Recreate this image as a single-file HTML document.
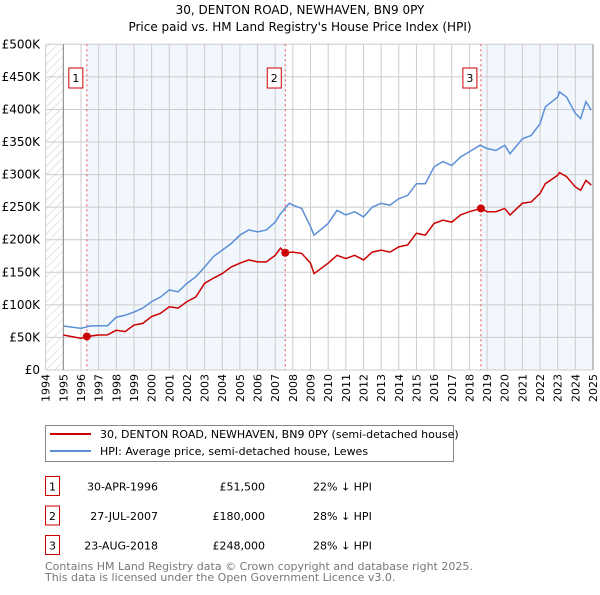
<!DOCTYPE html>
<html><head><meta charset="utf-8"><style>
body{margin:0;background:#fff;font-family:"Liberation Sans","DejaVu Sans",sans-serif;}
svg text{font-family:"DejaVu Sans","Liberation Sans",sans-serif;}
</style></head><body>
<svg id="c" width="600" height="590" viewBox="0 0 600 590" xmlns="http://www.w3.org/2000/svg">
<defs><pattern id="h" width="6" height="6" patternUnits="userSpaceOnUse" patternTransform="rotate(45)"><line x1="0" y1="0" x2="0" y2="6" stroke="#ccc" stroke-width="1"/></pattern></defs>
<text x="300" y="14" text-anchor="middle" font-size="12">30, DENTON ROAD, NEWHAVEN, BN9 0PY</text>
<text x="300" y="31" text-anchor="middle" font-size="12">Price paid vs. HM Land Registry's House Price Index (HPI)</text>
<g id="plot"></g>
<rect x="45.5" y="425.5" width="408" height="36" fill="#fff" stroke="#888"/>
<line x1="50" y1="434" x2="91" y2="434" stroke="#cc0000" stroke-width="2"/>
<text x="100" y="438" font-size="11">30, DENTON ROAD, NEWHAVEN, BN9 0PY (semi-detached house)</text>
<line x1="50" y1="451" x2="91" y2="451" stroke="#5b8fd6" stroke-width="2"/>
<text x="100" y="455" font-size="11">HPI: Average price, semi-detached house, Lewes</text>
<g id="tbl"></g>
<text x="45" y="570" font-size="11" fill="#777">Contains HM Land Registry data © Crown copyright and database right 2025.</text>
<text x="45" y="581" font-size="11" fill="#777">This data is licensed under the Open Government Licence v3.0.</text>
</svg>
<script>
const hpiYears=[1995,1996,1996.5,1997,1997.5,1998,1998.5,1999,1999.5,2000,2000.5,2001,2001.5,2002,2002.5,2003,2003.5,2004,2004.5,2005,2005.5,2006,2006.5,2007,2007.3,2007.8,2008,2008.5,2009,2009.2,2010,2010.5,2011,2011.5,2012,2012.5,2013,2013.5,2014,2014.5,2015,2015.5,2016,2016.5,2017,2017.5,2018,2018.6,2019,2019.5,2020,2020.3,2021,2021.5,2022,2022.3,2023,2023.1,2023.5,2024,2024.3,2024.6,2024.9];
const hpiValues=[67.5,64,67.5,68,68,81,84,89,95,105,112,123,120,133,143,158,174,184,194,207,215,212,215,227,240,256,253,248,220,207,225,245,238,243,235,250,256,253,263,268,286,286,312,320,314,327,335,345,340,337,345,332,355,360,378,404,419,427,419,394,386,412,399];
const redYears=[1995,1996,1996.33,1997,1997.5,1998,1998.5,1999,1999.5,2000,2000.5,2001,2001.5,2002,2002.5,2003,2003.5,2004,2004.5,2005,2005.5,2006,2006.5,2007,2007.3,2007.57,2008,2008.5,2009,2009.2,2010,2010.5,2011,2011.5,2012,2012.5,2013,2013.5,2014,2014.5,2015,2015.5,2016,2016.5,2017,2017.5,2018,2018.65,2019,2019.5,2020,2020.3,2021,2021.5,2022,2022.3,2023,2023.1,2023.5,2024,2024.3,2024.6,2024.9];
const redValues=[53.7,48.6,51.5,53.7,54,61,59,69,71.6,82,87,97,95,105,112,133,141,148,158,164,169,166,166,176,187,180,181,179,164,148,164,176,171,176,169,181,184,181,189,192,210,207,225,230,227,238,243,248,243,243,248,238,256,258,271,286,299,303,297,281,276,291,284];
const saleYears=[1996.33,2007.57,2018.65];
const saleValues=[51.5,180,248];
const saleLabels=["1","2","3"];
const saleDates=["30-APR-1996","27-JUL-2007","23-AUG-2018"];
const salePrices=["£51,500","£180,000","£248,000"];
const salePct=["22% ↓ HPI","28% ↓ HPI","28% ↓ HPI"];
const yTicks=[0,50,100,150,200,250,300,350,400,450,500];
const yTickLabels=["£0","£50K","£100K","£150K","£200K","£250K","£300K","£350K","£400K","£450K","£500K"];
const NS="http://www.w3.org/2000/svg";
const X0=45.7,X1=593,Y0=370,Y1=44.3;
const xs=y=>X0+(y-1994)*(X1-X0)/31;
const ys=v=>Y0-(v/500)*(Y0-Y1);
const g=document.getElementById('plot');
function mk(t,a,p){const e=document.createElementNS(NS,t);for(const k in a)e.setAttribute(k,a[k]);(p||g).appendChild(e);return e;}
let e;
e=mk('rect',{x:X0,y:Y1,width:X1-X0,height:Y0-Y1,fill:'#fff'});
e=mk('rect',{x:X0,y:Y1,width:xs(1995)-X0,height:Y0-Y1,fill:'url(#h)'});


e=mk('rect',{x:xs(saleYears[0]),y:Y1,width:xs(saleYears[1])-xs(saleYears[0]),height:Y0-Y1,fill:'#f2f6fd'});


e=mk('rect',{x:xs(saleYears[2]),y:Y1,width:X1-xs(saleYears[2]),height:Y0-Y1,fill:'#f2f6fd'});


for(let y=1994;y<=2025;y++){e=mk('line',{x1:xs(y),x2:xs(y),y1:Y1,y2:Y0,stroke:'#ccc','stroke-width':1});


e=mk('text',{x:0,y:0,'font-size':11,'text-anchor':'end',transform:`translate(${xs(y)+4},374) rotate(-90)`});e.textContent=y;

}
yTicks.forEach((v,i)=>{e=mk('line',{x1:X0,x2:X1,y1:ys(v),y2:ys(v),stroke:'#ccc','stroke-width':1});


e=mk('text',{x:40,y:ys(v)+4,'font-size':12,'text-anchor':'end'});e.textContent=yTickLabels[i];

});
mk('line',{x1:xs(1995),x2:xs(1995),y1:Y1,y2:Y0,stroke:'#888'});
mk('line',{x1:X1,x2:X1,y1:Y1,y2:Y0,stroke:'#888'});
saleYears.forEach((s,i)=>{e=mk('line',{x1:xs(s),x2:xs(s),y1:Y1,y2:Y0,stroke:'#e05050','stroke-dasharray':'2,3'});


e=mk('rect',{x:xs(s)-18,y:68,width:14,height:20,fill:'#fff',stroke:'#cc0000'});


e=mk('text',{x:xs(s)-11,y:82,'font-size':11,'text-anchor':'middle'});e.textContent=saleLabels[i];});
function line(xa,va,col,name){e=mk('polyline',{points:xa.map((y,i)=>xs(y)+','+ys(va[i])).join(' '),fill:'none',stroke:col,'stroke-width':1.5});

}
line(hpiYears,hpiValues,'#5b8fd6','hpi-line');
line(redYears,redValues,'#cc0000','price-paid-line');
saleYears.forEach((s,i)=>{e=mk('circle',{cx:xs(s),cy:ys(saleValues[i]),r:4,fill:'#cc0000'});

});
const t=document.getElementById('tbl');
saleLabels.forEach((l,i)=>{const yy=476.5+i*29.5;
e=mk('rect',{x:45.5,y:yy,width:14,height:19,fill:'#fff',stroke:'#cc0000'},t);


e=mk('text',{x:52.5,y:yy+14,'font-size':11,'text-anchor':'middle'},t);e.textContent=l;
e=mk('text',{x:158,y:yy+14,'font-size':11,'text-anchor':'end'},t);e.textContent=saleDates[i];


e=mk('text',{x:265,y:yy+14,'font-size':11,'text-anchor':'end'},t);e.textContent=salePrices[i];


e=mk('text',{x:313,y:yy+14,'font-size':11},t);e.textContent=salePct[i];

});
</script>
</body></html>
